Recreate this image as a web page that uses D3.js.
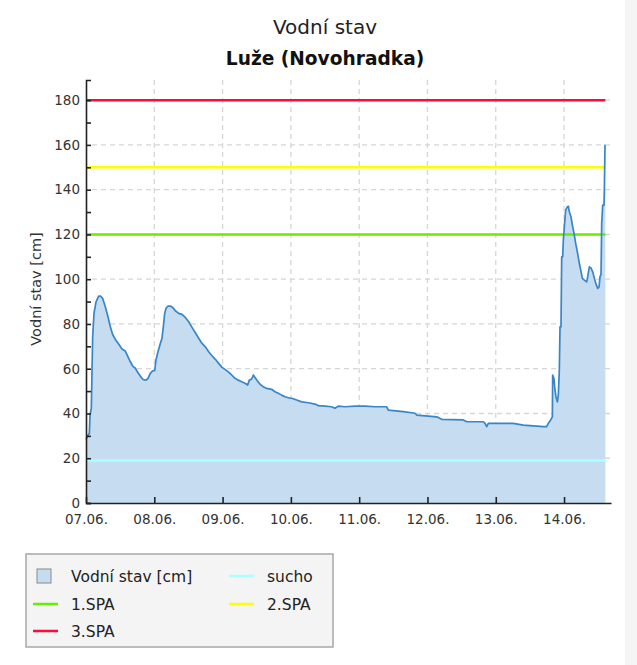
<!DOCTYPE html>
<html>
<head>
<meta charset="utf-8">
<script src="https://cdn.jsdelivr.net/npm/d3@7"></script>
<style>
  html, body { margin: 0; padding: 0; background: #ffffff; }
  svg { display: block; font-family: "DejaVu Sans", sans-serif; }
</style>
</head>
<body>
<svg id="chart" width="637" height="665"></svg>
<script>
// ---- data ----
const titleText = "Vodní stav";
const subtitleText = "Luže (Novohradka)";
const yAxisTitle = "Vodní stav [cm]";
const dayLabels = ["07.06.", "08.06.", "09.06.", "10.06.", "11.06.", "12.06.", "13.06.", "14.06."];
const dayHours = [0, 24, 48, 72, 96, 120, 144, 168];
const yTicks = [0,10,20,30,40,50,60,70,80,90,100,110,120,130,140,150,160,170,180];
// hours since 07.06. 00:00
const hours = [0, 0.94, 1.17, 1.41, 1.87, 2.34, 2.81, 3.51, 4.45, 5.16, 5.86, 6.79, 7.73, 8.55, 9.37, 10.31, 11.48, 12.65, 13.82, 14.76, 15.58, 16.4, 17.34, 18.27, 19.09, 20.03, 21.09, 21.79, 22.61, 23.43, 24.13, 24.6, 25.3, 26.12, 26.71, 27.3, 27.65, 28.12, 28.82, 29.64, 30.46, 31.39, 32.57, 33.74, 34.91, 36.08, 37.25, 38.42, 39.6, 40.77, 41.94, 43.11, 44.28, 45.45, 46.62, 47.8,
  48.85, 50.02, 51.19, 52.36, 53.53, 54.71, 55.88, 56.82, 57.4, 58.22, 58.81, 59.39, 60.21, 61.15, 62.32, 63.49, 65.25, 66.42, 67.59, 68.76, 69.94, 71.11, 72.28, 74.04, 75.79, 78.13, 80.48, 81.65, 83.99, 86.34, 87.51, 88.68, 91.02, 94.54, 98.05, 101.56,
  105.67, 106.25, 111.52, 115.62, 116.21, 123.24, 125.0, 132.61, 133.78, 139.64, 140.22, 140.81, 141.4, 146.67, 150.18, 153.7, 160.73, 161.9, 162.48, 163.3, 163.89,
  164.0, 164.47, 164.82, 165.17, 165.64, 165.99, 166.34, 166.58, 166.93, 167.17, 167.52, 167.75, 168.1, 168.57, 169.16, 169.51, 169.86, 170.45, 170.92, 171.51, 172.09, 172.68, 173.27, 173.85, 174.44, 175.14, 175.96, 176.31, 176.9, 177.48, 178.07, 178.65, 179.24, 179.83, 180.3, 180.64, 180.99, 181.23, 181.58, 182.04, 182.16, 182.39, 182.51];
const levels = [28.4, 30.8, 31, 39.3, 42.3, 74.3, 84.7, 89.8, 92.4, 92.4, 91.4, 87.7, 83.2, 78.7, 75.3, 73.1, 71, 68.8, 67.9, 65.3, 63.1, 61.2, 60.2, 58.2, 56.7, 55.2, 54.9, 55.7, 57.9, 59.1, 59.1, 63.9, 67.6, 71.3, 73.6, 80.3, 84.7, 87, 88, 88, 87.4, 85.9, 84.7, 84.3, 82.9, 81, 78.5, 76.1, 73.6, 71.3, 69.8, 67.6, 65.8, 64.2, 62.4, 60.6,
  59.7, 58.6, 57.2, 55.7, 54.9, 54.2, 53.5, 52.7, 54.9, 55.4, 57.2, 56.1, 54.6, 53.1, 51.9, 51.2, 50.8, 49.7, 49, 48.2, 47.5, 47, 46.8, 46, 45.2, 44.8, 44.2, 43.5, 43.3, 43, 42.3, 43.3, 43, 43.3, 43.3, 43,
  43, 41.5, 40.8, 40.1, 39.3, 38.5, 37.4, 37.1, 36.3, 36.3, 35.6, 34.1, 35.6, 35.6, 35.6, 34.8, 34.1, 34.1, 35.6, 37.1, 38.5,
  57.2, 55.5, 50.5, 47.5, 45.2, 48.2, 59.4, 78.7, 78.7, 110, 110, 117.5, 123.4, 130.9, 132.3, 132.6, 130.1, 127.9, 124.2, 120.5, 116, 112.2, 107.8, 104.1, 100.4, 99.6, 98.8, 101.1, 105.5, 105, 103.3, 100.4, 97.8, 95.9, 96.5, 101.1, 102, 124.9, 133.1, 133.1, 139.8, 159.9, 160];
const refNames = ["sucho", "1.SPA", "2.SPA", "3.SPA"];
const refValues = [19, 120, 150, 180];
const refColors = ["#aaffff", "#66ee00", "#ffff00", "#ff0a3c"];

// ---- layout ----
const svg = d3.select("#chart");
const L = 86, R = 611, T = 80, B = 503;
const x = d3.scaleLinear().domain([0, 184.5]).range([L, R]);
const y = d3.scaleLinear().domain([0, 189]).range([B, T]);
const series = hours.map((h, i) => ({h, v: levels[i]}));
const lastX = x(hours[hours.length - 1]);

svg.append("rect").attr("x", 625).attr("y", 0).attr("width", 12).attr("height", 665).attr("fill", "#f5f5f5");

// titles
svg.append("text").attr("x", 325).attr("y", 34).attr("text-anchor", "middle")
  .attr("font-size", 20).attr("fill", "#222").text(titleText);
svg.append("text").attr("x", 325).attr("y", 65).attr("text-anchor", "middle")
  .attr("font-size", 18.6).attr("font-weight", "bold").attr("fill", "#111").text(subtitleText);

// grid
const grid = svg.append("g").attr("stroke", "#d6d6d6").attr("stroke-width", 1.3).attr("stroke-dasharray", "5,4");
grid.selectAll("line.gx").data(dayHours.slice(1)).enter().append("line")
  .attr("x1", d => x(d)).attr("x2", d => x(d)).attr("y1", T).attr("y2", B);
grid.selectAll("line.gy").data(yTicks.filter(d => d > 0 && d % 20 === 0)).enter().append("line")
  .attr("x1", L + 6).attr("x2", R).attr("y1", d => y(d)).attr("y2", d => y(d));

// area + line
const area = d3.area().x(d => x(d.h)).y0(y(0)).y1(d => y(d.v));
const line = d3.line().x(d => x(d.h)).y(d => y(d.v));
svg.append("path").datum(series).attr("d", area).attr("fill", "#c6dcf0");

// reference lines
refValues.forEach((v, i) => {
  svg.append("line").attr("x1", L).attr("x2", lastX)
    .attr("y1", y(v)).attr("y2", y(v)).attr("stroke", refColors[i]).attr("stroke-width", 2.5);
});

svg.append("path").datum(series).attr("d", line).attr("fill", "none")
  .attr("stroke", "#3886c8").attr("stroke-width", 1.7).attr("stroke-linejoin", "round");

// axes
const yAxis = d3.axisLeft(y).tickValues(yTicks).tickSize(-5).tickSizeOuter(-5).tickPadding(6)
  .tickFormat(d => d % 20 === 0 ? d : "");
const gy = svg.append("g").attr("transform", `translate(${L},0)`).call(yAxis);
const xAxis = d3.axisBottom(x).tickValues(dayHours).tickSize(-6).tickSizeOuter(0).tickPadding(11)
  .tickFormat((d, i) => dayLabels[i]);
const gx = svg.append("g").attr("transform", `translate(0,${B})`).call(xAxis);
[gx, gy].forEach(g => {
  g.selectAll("path, line").attr("stroke", "#222").attr("stroke-width", 1.6);
  g.selectAll("text").attr("font-family", "DejaVu Sans").attr("font-size", 13.5).attr("fill", "#333");
});

svg.append("text").attr("transform", "translate(36,289) rotate(-90)")
  .attr("text-anchor", "middle").attr("dominant-baseline", "central")
  .attr("font-size", 14.5).attr("fill", "#333").text(yAxisTitle);

// legend
const lg = svg.append("g");
lg.append("rect").attr("x", 26).attr("y", 554).attr("width", 307).attr("height", 93)
  .attr("fill", "#f4f4f4").attr("stroke", "#a8a8a8").attr("stroke-width", 1.5);
const legendItems = [
  {label: "Vodní stav [cm]", type: "box", color: "#c6dcf0", cx: 33, row: 0},
  {label: refNames[0], type: "line", color: refColors[0], cx: 229, row: 0},
  {label: refNames[1], type: "line", color: refColors[1], cx: 33, row: 1},
  {label: refNames[2], type: "line", color: refColors[2], cx: 229, row: 1},
  {label: refNames[3], type: "line", color: refColors[3], cx: 33, row: 2}
];
const rowY = [576, 604, 631];
legendItems.forEach(it => {
  const cy = rowY[it.row];
  if (it.type === "box") {
    lg.append("rect").attr("x", 37).attr("y", cy - 7).attr("width", 14).attr("height", 14)
      .attr("fill", it.color).attr("stroke", "#888").attr("stroke-width", 1);
  } else {
    lg.append("line").attr("x1", it.cx).attr("x2", it.cx + 25).attr("y1", cy).attr("y2", cy)
      .attr("stroke", it.color).attr("stroke-width", 2.5);
  }
  lg.append("text").attr("x", it.cx + 38).attr("y", cy + 5.5).attr("font-size", 15.5)
    .attr("fill", "#222").text(it.label);
});
</script>
</body>
</html>
